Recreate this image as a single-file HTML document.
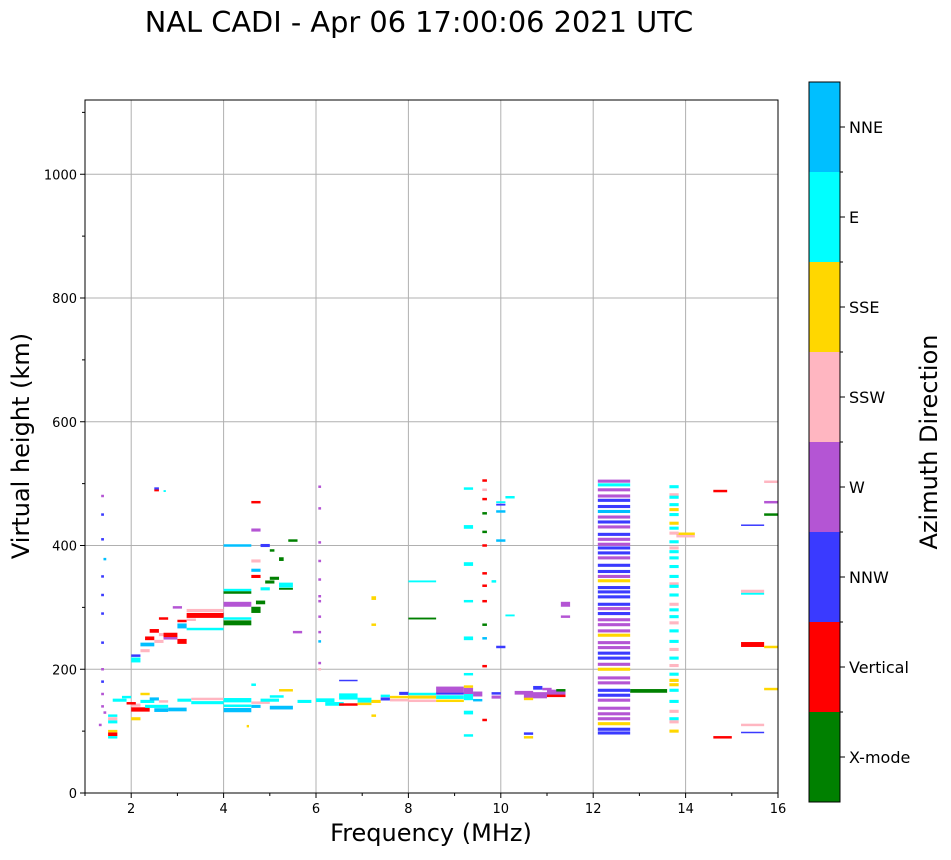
<!DOCTYPE html>
<html><head><meta charset="utf-8"><style>
body{margin:0;background:#fff;width:951px;height:856px;overflow:hidden;font-family:"DejaVu Sans",sans-serif}
</style></head><body>
<svg id="chart" width="951" height="856" xmlns="http://www.w3.org/2000/svg" font-family="DejaVu Sans, sans-serif">
<text x="419" y="32" font-size="28.8" text-anchor="middle">NAL CADI - Apr 06 17:00:06 2021 UTC</text>
<g id="grid"></g>
<g id="marks"></g>
<rect x="85" y="100" width="693" height="693" fill="none" stroke="#000" stroke-width="1"/>
<g id="axes"></g>
<text x="431" y="841" font-size="24" text-anchor="middle">Frequency (MHz)</text>
<text x="29" y="446" font-size="24" text-anchor="middle" transform="rotate(-90 29 446)">Virtual height (km)</text>
<g id="cbar"></g>
<text x="937" y="442" font-size="24" text-anchor="middle" transform="rotate(-90 937 442)">Azimuth Direction</text>
</svg>
<script>
const xTicks=[2,4,6,8,10,12,14,16];
const yTicks=[0,200,400,600,800,1000];
const dirLabels=["X-mode","Vertical","NNW","W","SSW","SSE","E","NNE"];
const dirColors=["#008000","#ff0000","#3a3aff","#b455d4","#ffb6c1","#ffd700","#00ffff","#00bfff"];
// [fStart, fEnd, height km, thickness km, direction index]
const eLayer=[[1.5,1.7,95,6,1],[1.5,1.7,90,4,6],[1.5,1.7,100,4,5],[1.5,1.7,115,5,6],[1.5,1.7,120,5,4],[1.5,1.7,125,4,6],[1.8,2.0,155,4,6],[2.0,2.2,120,5,5],[2.0,2.4,135,7,1],[2.0,2.2,142,5,4],[2.2,2.5,148,5,6],[2.3,2.8,140,5,6],[2.5,2.8,134,6,7],[2.8,3.2,135,6,7],[3.0,3.3,150,5,6],[3.3,4.0,152,4,4],[3.3,4.0,146,5,6],[4.0,4.6,150,7,6],[4.0,4.6,134,7,7],[4.0,4.6,141,4,6],[4.6,5.0,146,4,4],[4.6,4.8,140,5,7],[4.8,5.2,150,5,6],[5.0,5.5,138,6,7],[5.2,5.5,166,4,5],[5.0,5.3,156,4,6],[4.6,4.7,175,4,6],[5.6,5.9,148,5,6],[6.0,6.4,150,6,6],[6.2,6.6,144,6,6],[6.5,6.9,143,4,1],[6.5,6.9,156,10,6],[6.9,7.2,150,8,6],[6.9,7.2,144,4,5],[7.2,7.4,148,5,5],[7.4,7.6,152,5,2],[7.4,7.6,157,4,6],[7.6,8.0,150,4,4],[7.6,8.0,155,4,5],[7.8,8.0,161,5,2],[8.0,8.6,149,4,4],[8.0,8.6,155,5,5],[8.0,8.6,160,4,6],[8.6,9.2,149,4,5],[8.6,9.2,155,6,6],[8.6,9.2,161,4,2],[8.6,9.2,167,10,3],[9.2,9.4,155,10,6],[9.2,9.4,165,10,3],[9.2,9.4,172,4,5],[9.4,9.6,160,8,3],[9.4,9.6,150,4,7],[9.8,10.0,155,5,3],[9.8,10.0,161,4,2],[10.3,10.7,162,6,3],[10.5,11.0,158,10,3],[10.7,10.9,170,6,2],[10.9,11.1,168,4,3],[11.0,11.4,162,10,3],[11.0,11.4,157,4,1],[11.2,11.4,166,4,0],[10.5,10.7,152,4,5],[10.5,10.7,96,4,2],[10.5,10.7,90,4,5],[9.2,9.4,130,6,6],[9.2,9.4,93,4,6],[9.6,9.7,118,4,1],[12.8,13.6,165,6,0],[15.2,15.7,110,4,4],[14.6,15.0,90,4,1],[15.7,16.0,168,4,5],[7.2,7.3,125,4,5],[4.5,4.55,108,4,5],[1.6,1.9,150,5,6],[2.2,2.4,160,4,5],[2.4,2.6,152,5,7],[2.6,2.8,148,4,4],[1.9,2.1,145,4,1]];
const fLayer=[[2.0,2.2,215,8,6],[2.0,2.2,222,4,2],[2.2,2.4,230,5,4],[2.2,2.5,240,6,7],[2.3,2.5,250,6,1],[2.4,2.6,262,6,1],[2.5,2.7,245,5,4],[2.6,2.8,256,5,4],[2.7,3.0,255,8,1],[2.7,3.0,250,4,3],[3.0,3.2,245,8,1],[3.0,3.2,270,8,7],[3.0,3.2,278,4,1],[3.2,3.4,280,4,4],[3.2,4.0,287,8,1],[3.2,4.0,295,5,4],[3.2,4.0,265,4,6],[2.9,3.1,300,4,3],[2.6,2.8,282,4,1],[4.0,4.6,275,8,0],[4.0,4.6,282,4,6],[4.0,4.6,305,8,3],[4.0,4.6,328,4,6],[4.0,4.6,324,4,0],[4.0,4.6,400,4,7],[4.6,4.8,296,10,0],[4.7,4.9,308,6,0],[4.8,5.0,330,5,6],[4.9,5.1,341,5,0],[5.0,5.2,347,5,0],[5.2,5.5,336,8,6],[5.2,5.5,330,3,0],[5.4,5.6,408,4,0],[4.6,4.8,350,5,1],[4.6,4.8,360,5,7],[4.6,4.8,375,5,4],[4.6,4.8,425,5,3],[4.6,4.8,470,4,1],[5.5,5.7,260,4,3],[4.8,5.0,400,5,2],[5.0,5.1,392,4,0],[5.2,5.3,378,6,0],[8.0,8.6,342,3,6],[8.0,8.6,282,3,0],[9.2,9.4,492,4,6],[9.2,9.4,430,6,6],[9.2,9.4,370,6,6],[9.2,9.4,310,4,6],[9.2,9.4,250,6,6],[9.2,9.4,192,4,6],[9.6,9.7,505,4,1],[9.6,9.7,490,4,4],[9.6,9.7,475,4,1],[9.6,9.7,452,4,0],[9.6,9.7,422,4,0],[9.6,9.7,400,4,1],[9.6,9.7,355,4,1],[9.6,9.7,335,4,1],[9.6,9.7,310,4,1],[9.6,9.7,272,4,0],[9.6,9.7,250,4,7],[9.6,9.7,205,4,1],[9.9,10.1,466,3,2],[9.9,10.1,470,3,6],[9.9,10.1,455,4,7],[9.9,10.1,408,4,7],[9.9,10.1,236,4,2],[10.1,10.3,478,4,6],[10.1,10.3,287,3,6],[9.8,9.9,342,4,6],[11.3,11.5,305,8,3],[11.3,11.5,285,4,3],[7.2,7.3,315,6,5],[7.2,7.3,272,4,5],[13.8,14.2,419,4,5],[13.8,14.2,415,4,4],[14.6,14.9,488,4,1],[15.2,15.7,326,5,4],[15.2,15.7,322,3,6],[15.2,15.7,240,8,1],[15.2,15.7,433,2,2],[15.2,15.7,98,2,2],[15.7,16.0,503,4,4],[15.7,16.0,470,4,3],[15.7,16.0,450,4,0],[15.7,16.0,236,4,5],[6.5,6.9,182,2,2],[2.5,2.6,492,4,2],[2.5,2.6,489,3,1],[2.7,2.75,488,3,6]];
const band12=[[504,3],[498,6],[490,3],[480,3],[473,2],[463,2],[455,7],[446,3],[438,2],[430,3],[418,2],[410,3],[402,3],[396,2],[388,2],[380,3],[368,2],[358,2],[350,3],[343,5],[332,2],[325,2],[317,2],[305,2],[298,3],[290,2],[280,3],[272,3],[262,3],[255,5],[243,3],[235,3],[226,2],[218,2],[208,3],[200,5],[186,3],[178,3],[166,2],[158,2],[150,3],[137,3],[128,3],[120,3],[112,5],[103,2],[97,2]];
const band138=[[495,6],[482,4],[478,6],[466,6],[458,5],[450,6],[436,5],[428,6],[420,4],[406,6],[396,4],[390,6],[380,6],[366,6],[350,6],[338,4],[334,6],[320,6],[305,4],[296,6],[285,6],[275,4],[262,6],[245,6],[232,4],[218,6],[206,4],[192,6],[182,5],[175,5],[166,6],[148,6],[132,4],[120,6],[115,4],[100,5]];
const dots=[[1.35,480,3],[1.35,450,2],[1.35,410,2],[1.35,350,2],[1.35,320,2],[1.35,290,2],[1.35,243,2],[1.35,200,3],[1.35,180,2],[1.35,160,3],[1.35,140,3],[1.4,130,3],[1.3,110,3],[1.4,378,7],[6.05,495,3],[6.05,460,3],[6.05,405,3],[6.05,375,3],[6.05,345,3],[6.05,318,3],[6.05,310,3],[6.05,285,3],[6.05,260,3],[6.05,245,7],[6.05,210,3],[6.05,200,4]];
const X=f=>85+(f-1)*(693/15), Y=h=>793-h*(693/1120);
const NS="http://www.w3.org/2000/svg";
function mk(t,a,p){const e=document.createElementNS(NS,t);for(const k in a)e.setAttribute(k,a[k]);p.appendChild(e);return e;}
const grid=document.getElementById('grid'),axes=document.getElementById('axes'),marks=document.getElementById('marks'),cbar=document.getElementById('cbar');
xTicks.forEach(v=>{const x=X(v);
 if(v<16){const l=mk('line',{x1:x,x2:x,y1:100,y2:793,stroke:'#b0b0b0','stroke-width':1},grid);}
 mk('line',{x1:x,x2:x,y1:793,y2:798,stroke:'#000'},axes);
 const t=mk('text',{x:x,y:813,'font-size':13,'text-anchor':'middle'},axes);t.textContent=v;
 });
for(let v=1;v<=16;v++){if(v%2)mk('line',{x1:X(v),x2:X(v),y1:793,y2:796,stroke:'#000'},axes);}
yTicks.forEach(v=>{const y=Y(v);
 if(v>0){const l=mk('line',{x1:85,x2:778,y1:y,y2:y,stroke:'#b0b0b0','stroke-width':1},grid);}
 mk('line',{x1:80,x2:85,y1:y,y2:y,stroke:'#000'},axes);
 const t=mk('text',{x:77,y:y+5,'font-size':13,'text-anchor':'end'},axes);t.textContent=v;
 });
for(let v=100;v<1120;v+=200)mk('line',{x1:82,x2:85,y1:Y(v),y2:Y(v),stroke:'#000'},axes);
function seg(f0,f1,h,dh,c){const y0=Y(h+dh/2),y1=Y(h-dh/2);
 const r=mk('rect',{x:X(f0),y:y0,width:Math.max(1.5,X(f1)-X(f0)),height:Math.max(1.5,y1-y0),fill:dirColors[c]},marks);
 }
eLayer.concat(fLayer).forEach(s=>seg(...s));
band12.forEach(s=>seg(12.1,12.8,s[0],5,s[1]));
band138.forEach(s=>seg(13.65,13.85,s[0],5,s[1]));
dots.forEach(s=>seg(s[0],s[0]+0.06,s[1],4,s[2]));
dirColors.forEach((c,i)=>{const y=802-(i+1)*90;
 const r=mk('rect',{x:809,y:y,width:31,height:90,fill:c},cbar);
 mk('line',{x1:840,x2:845,y1:y+45,y2:y+45,stroke:'#000'},cbar);
 if(i<7)mk('line',{x1:840,x2:843,y1:y,y2:y,stroke:'#000'},cbar);
 const t=mk('text',{x:849,y:y+51,'font-size':16},cbar);t.textContent=dirLabels[i];
 });
mk('rect',{x:809,y:82,width:31,height:720,fill:'none',stroke:'#000'},cbar);
</script>
</body></html>
